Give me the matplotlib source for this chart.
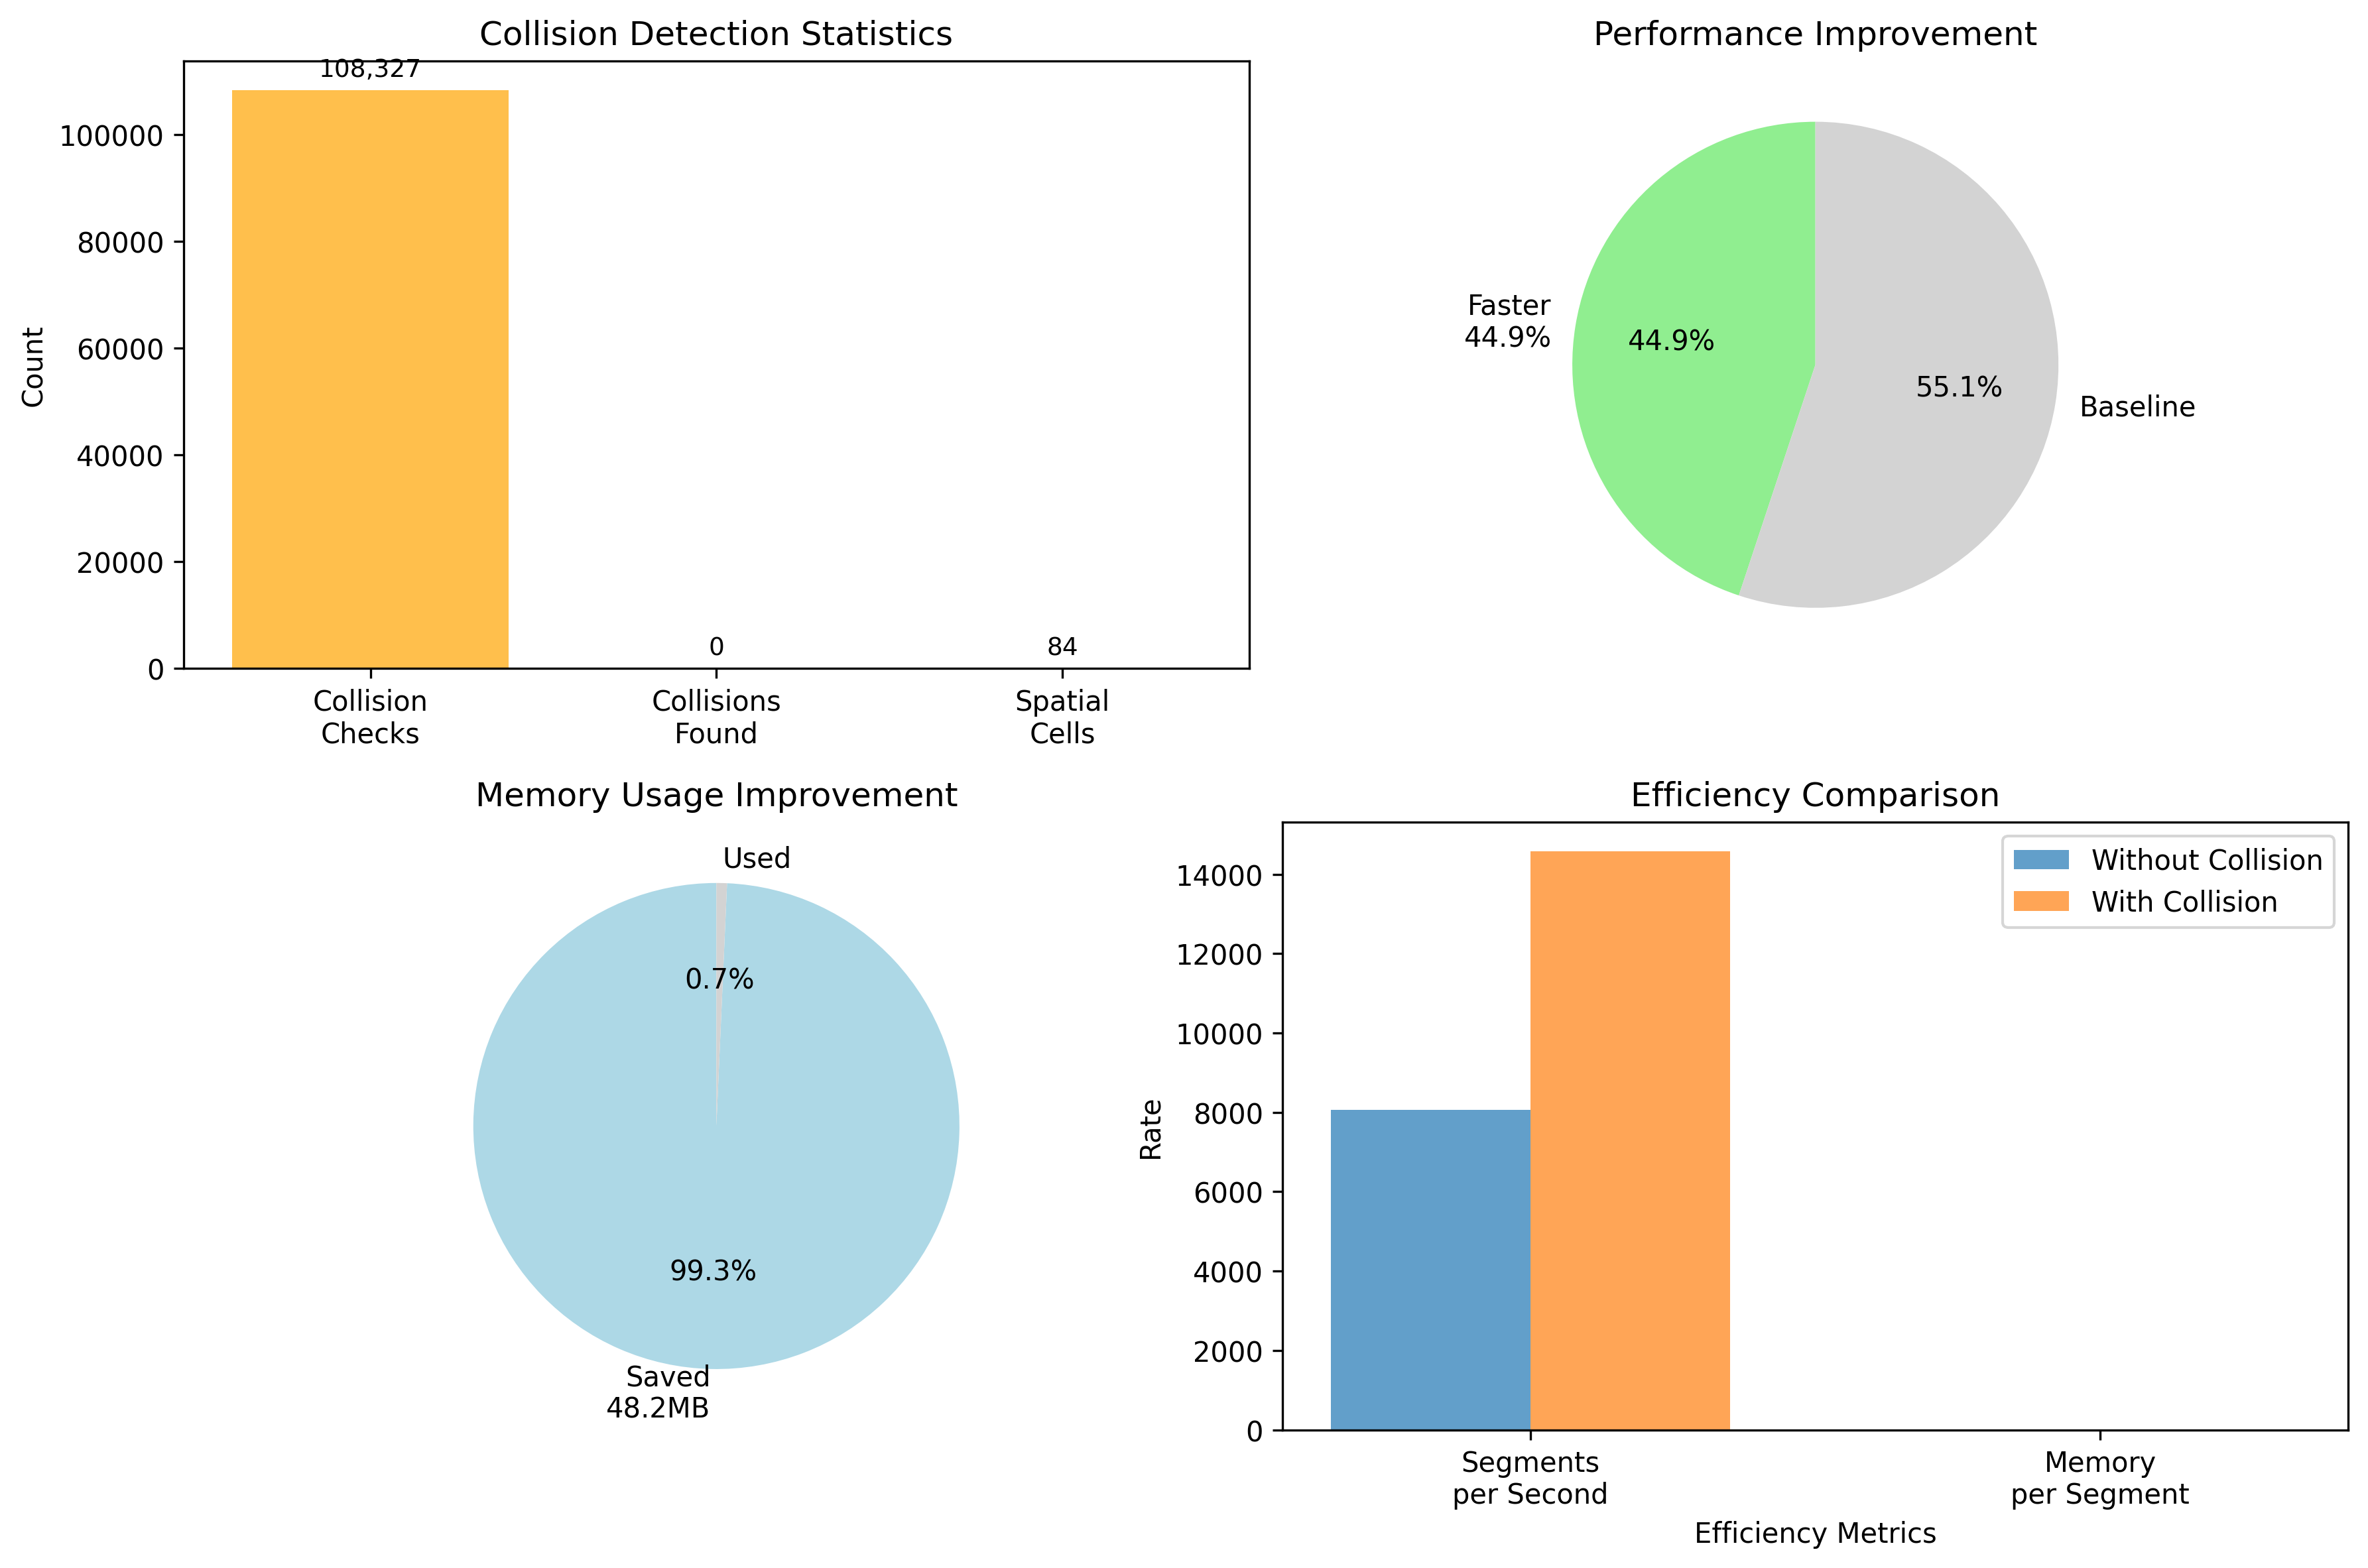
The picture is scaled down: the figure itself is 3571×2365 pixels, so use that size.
import matplotlib
matplotlib.use("Agg")
import matplotlib.pyplot as plt
import numpy as np

# Data
stat_labels = ["Collision\nChecks", "Collisions\nFound", "Spatial\nCells"]
stat_values = [108327, 0, 84]

perf_labels = ["Faster\n44.9%", "Baseline"]
perf_values = [44.9, 55.1]

mem_labels = ["Saved\n48.2MB", "Used"]
mem_values = [99.3, 0.7]

eff_metrics = ["Segments\nper Second", "Memory\nper Segment"]
eff_without = [8060, 0.006]
eff_with = [14580, 0.0033]

fig, axes = plt.subplots(2, 2, figsize=(12, 8))

# Top-left: bar chart
ax = axes[0, 0]
bars = ax.bar(np.arange(len(stat_values)), stat_values, color="orange", alpha=0.7)
ax.set_xticks(np.arange(len(stat_values)))
ax.set_xticklabels(stat_labels)
ax.set_ylabel("Count")
ax.set_title("Collision Detection Statistics")
for b, v in zip(bars, stat_values):
    ax.annotate(f"{v:,}", xy=(b.get_x() + b.get_width() / 2, b.get_height()),
                xytext=(0, 3), textcoords="offset points", ha="center", va="bottom", fontsize=9)

# Top-right: performance pie
ax = axes[0, 1]
ax.pie(perf_values, labels=perf_labels, colors=["lightgreen", "lightgray"],
       autopct="%1.1f%%", startangle=90)
ax.set_title("Performance Improvement")

# Bottom-left: memory pie
ax = axes[1, 0]
ax.pie(mem_values, labels=mem_labels, colors=["lightblue", "lightgray"],
       autopct="%1.1f%%", startangle=90)
ax.set_title("Memory Usage Improvement")

# Bottom-right: efficiency comparison
ax = axes[1, 1]
x = np.arange(len(eff_metrics))
w = 0.35
ax.bar(x - w / 2, eff_without, w, label="Without Collision", alpha=0.7)
ax.bar(x + w / 2, eff_with, w, label="With Collision", alpha=0.7)
ax.set_xticks(x)
ax.set_xticklabels(eff_metrics)
ax.set_xlabel("Efficiency Metrics")
ax.set_ylabel("Rate")
ax.set_title("Efficiency Comparison")
ax.legend()

plt.tight_layout()
plt.savefig("out.png", dpi=300, bbox_inches="tight")
